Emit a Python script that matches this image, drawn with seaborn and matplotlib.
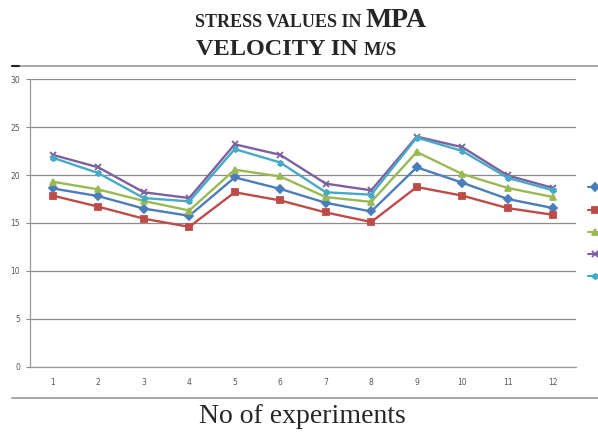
import numpy as np
import pandas as pd
import matplotlib
matplotlib.use("Agg")
import matplotlib.pyplot as plt
from matplotlib.lines import Line2D
import seaborn as sns

experiments = list(range(1, 13))
series_names = ["Series1", "Series2", "Series3", "Series4", "Series5"]
blue = [18.6, 17.8, 16.5, 15.75, 19.75, 18.55, 17.1, 16.2, 20.8, 19.2, 17.5, 16.55]
red = [17.85, 16.7, 15.45, 14.6, 18.2, 17.35, 16.1, 15.1, 18.75, 17.85, 16.55, 15.85]
green = [19.3, 18.5, 17.3, 16.3, 20.55, 19.85, 17.7, 17.2, 22.4, 20.1, 18.65, 17.7]
purple = [22.1, 20.8, 18.2, 17.6, 23.2, 22.1, 19.1, 18.4, 24.0, 22.9, 19.95, 18.65]
cyan = [21.8, 20.2, 17.6, 17.25, 22.7, 21.3, 18.2, 17.95, 23.9, 22.5, 19.7, 18.4]
y_ticks = [0, 5, 10, 15, 20, 25, 30]

colors = ["#4A7EBB", "#BE4B48", "#98B954", "#7D60A0", "#46AAC5"]
markers = ["D", "s", "^", "x", (6, 2, 0)]

df = pd.DataFrame({
    "exp": experiments * 5,
    "value": blue + red + green + purple + cyan,
    "series": np.repeat(series_names, 12),
})

sns.set_style("white")
fig = plt.figure(figsize=(5.98, 4.32), dpi=100)
ax = fig.add_axes([0.0502, 0.1505, 0.913, 0.6666])

for name, c, m in zip(series_names, colors, markers):
    sns.lineplot(data=df[df["series"] == name], x="exp", y="value",
                 color=c, marker=m, linewidth=1.7, markersize=4.5,
                 markeredgewidth=1.3, markeredgecolor=c, markerfacecolor=c,
                 ax=ax)

ax.set_xlim(0.5, 12.5)
ax.set_ylim(0, 30)
ax.set_yticks(y_ticks)
ax.set_xticks(experiments)
ax.set_xticks(np.arange(0.5, 13, 1), minor=True)
ax.tick_params(axis="x", which="major", length=0, labelsize=5.5,
               labelcolor="#555555", pad=8)
ax.tick_params(axis="x", which="minor", length=3, color="#888888", width=0.8)
ax.tick_params(axis="y", length=3, color="#888888", labelsize=5.5,
               labelcolor="#555555", pad=4, left=True)
ax.grid(axis="y", color="#8c8c8c", linewidth=0.9)
for s in ["top", "right"]:
    ax.spines[s].set_visible(False)
for s in ["left", "bottom"]:
    ax.spines[s].set_color("#999999")
    ax.spines[s].set_linewidth(0.9)
ax.set_xlabel("")
ax.set_ylabel("")

# legend cut off at right edge, like the source image
handles = [Line2D([], [], color=c, marker=m, markersize=4.5, linewidth=1.5,
                  markeredgewidth=1.3, markeredgecolor=c)
           for c, m in zip(colors, markers)]
fig.legend(handles, series_names, loc="upper left",
           bbox_to_anchor=(0.968, 0.597), frameon=False, handlelength=1.6,
           labelspacing=1.26, fontsize=7)

# title in two sizes
tf = ["Liberation Serif"]
fig.text(0.612, 0.9375, "STRESS VALUES IN ", ha="right", va="baseline",
         fontsize=13, fontweight="bold", family=tf)
fig.text(0.612, 0.9375, "MPA", ha="left", va="baseline",
         fontsize=20, fontweight="bold", family=tf)
fig.text(0.608, 0.873, "VELOCITY IN ", ha="right", va="baseline",
         fontsize=17.5, fontweight="bold", family=tf)
fig.text(0.608, 0.873, "M/S", ha="left", va="baseline",
         fontsize=13.5, fontweight="bold", family=tf)

fig.text(0.505, 0.021, "No of experiments", ha="center", va="baseline",
         fontsize=20, family=tf)

# separator lines
fig.add_artist(Line2D([0.02, 1.0], [0.847, 0.847], color="#999999",
                      linewidth=1.2, transform=fig.transFigure))
fig.add_artist(Line2D([0.02, 0.032], [0.847, 0.847], color="#222222",
                      linewidth=1.5, transform=fig.transFigure))
fig.add_artist(Line2D([0.02, 1.0], [0.079, 0.079], color="#999999",
                      linewidth=1.2, transform=fig.transFigure))

fig.savefig("out.png", dpi=100)
